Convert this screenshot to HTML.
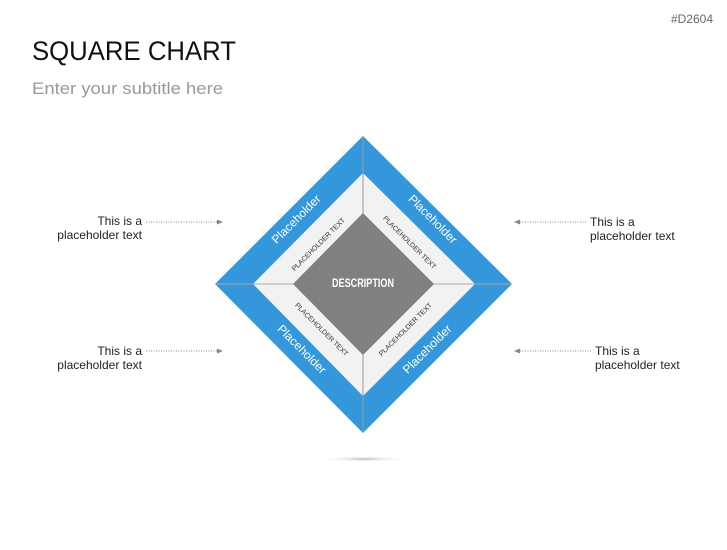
<!DOCTYPE html>
<html><head><style>
body{margin:0;width:727px;height:545px;background:#fff;overflow:hidden;font-family:"Liberation Sans",sans-serif;}
</style></head><body>
<svg width="727" height="545" xmlns="http://www.w3.org/2000/svg" font-family="Liberation Sans, sans-serif">
<defs><radialGradient id="sh"><stop offset="0" stop-color="#bbb"/><stop offset="1" stop-color="#fff" stop-opacity="0"/></radialGradient></defs>
<text x="713" y="23" font-size="12" fill="#666" text-anchor="end">#D2604</text>
<text x="32" y="60" font-size="27" fill="#111" textLength="204" lengthAdjust="spacingAndGlyphs">SQUARE CHART</text>
<text x="32" y="94" font-size="17" fill="#999" textLength="191" lengthAdjust="spacingAndGlyphs">Enter your subtitle here</text>
<ellipse cx="364" cy="459" rx="44" ry="3" fill="url(#sh)"/>
<polygon points="363,136 512,284 363,433 215,284" fill="#3497db"/>
<polygon points="363,173 475,284 363,396 253,284" fill="#f2f2f2"/>
<line x1="363" y1="136" x2="363" y2="433" stroke="#999" stroke-width="1"/>
<line x1="215" y1="284" x2="512" y2="284" stroke="#aaa" stroke-width="1"/>
<polygon points="363,213 434,284 363,355 293,284" fill="#808080"/>
<text x="363" y="287" font-size="11.5" font-weight="bold" fill="#fff" text-anchor="middle" textLength="62" lengthAdjust="spacingAndGlyphs">DESCRIPTION</text>
<g font-size="12" fill="#fff" text-anchor="middle">
<text transform="translate(299,222) rotate(-45)">Placeholder</text>
<text transform="translate(430,222) rotate(45)">Placeholder</text>
<text transform="translate(299,352) rotate(45)">Placeholder</text>
<text transform="translate(430,352) rotate(-45)">Placeholder</text>
</g>
<g font-size="7" fill="#333" text-anchor="middle">
<text transform="translate(320,246) rotate(-45)">PLACEHOLDER TEXT</text>
<text transform="translate(408,244) rotate(45)">PLACEHOLDER TEXT</text>
<text transform="translate(320,331) rotate(45)">PLACEHOLDER TEXT</text>
<text transform="translate(407,331) rotate(-45)">PLACEHOLDER TEXT</text>
</g>
<g font-size="12" fill="#222">
<text x="142" y="225" text-anchor="end">This is a</text>
<text x="142" y="239" text-anchor="end">placeholder text</text>
<text x="142" y="355" text-anchor="end">This is a</text>
<text x="142" y="369" text-anchor="end">placeholder text</text>
<text x="590" y="226">This is a</text>
<text x="590" y="240">placeholder text</text>
<text x="595" y="355">This is a</text>
<text x="595" y="369">placeholder text</text>
</g>
<g stroke="#888" stroke-width="1" stroke-dasharray="1,1.5">
<line x1="146" y1="222" x2="218" y2="222"/>
<line x1="146" y1="351" x2="218" y2="351"/>
<line x1="520" y1="222" x2="586" y2="222"/>
<line x1="520" y1="351" x2="591" y2="351"/>
</g>
<g fill="#888">
<polygon points="223,222 217,219.5 217,224.5"/>
<polygon points="223,351 217,348.5 217,353.5"/>
<polygon points="514,222 520,219.5 520,224.5"/>
<polygon points="514,351 520,348.5 520,353.5"/>
</g>
</svg>
</body></html>
